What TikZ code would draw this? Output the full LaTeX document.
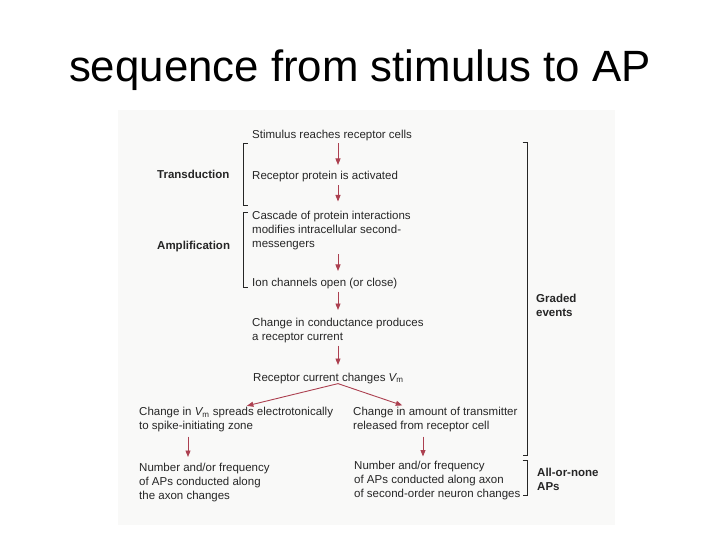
\documentclass[tikz,border=0pt]{standalone}
\usepackage{fontspec}
\setmainfont{Liberation Sans}
\usetikzlibrary{arrows.meta}
\definecolor{txt}{HTML}{262626}
\definecolor{arr}{HTML}{AC4050}
\definecolor{scan}{HTML}{F9F9F8}
\tikzset{
  body/.style={inner sep=0pt, anchor=north west, align=left, text=txt, font=\fontsize{11.5bp}{14bp}\selectfont},
  side/.style={inner sep=0pt, anchor=west, text=txt, font=\fontsize{11.5bp}{14bp}\selectfont\bfseries},
  sidebox/.style={inner sep=0pt, anchor=north west, align=left, text=txt, font=\fontsize{11.5bp}{14bp}\selectfont\bfseries},
  flow/.style={draw=arr, line width=0.9bp, -{Triangle[length=6.5bp,width=5bp]}, shorten <=3bp, shorten >=6bp},
  brk/.style={draw=txt, line width=0.8bp},
}
\begin{document}
\begin{tikzpicture}[x=1bp,y=-1bp]
\useasboundingbox (0,0) rectangle (720,540);
\fill[white] (0,0) rectangle (720,540);
\fill[scan] (118,110) rectangle (615,525);
% title
\node[anchor=base, inner sep=0pt, font=\fontsize{43.8bp}{50bp}\selectfont] (title) at (360,82) {sequence from stimulus to AP};
% column x for main arrows
\coordinate (cx) at (338,0);
\coordinate (lx) at (188,0);
\coordinate (rx) at (423,0);
% text blocks
\node[body] (stim) at (252,129.5) {Stimulus reaches receptor cells};
\node[body] (rec) at (252,170.5) {Receptor protein is activated};
\node[body] (casc) at (252,210.5) {Cascade of protein interactions\\modifies intracellular second-\\messengers};
\node[body] (ion) at (252,277.5) {Ion channels open (or close)};
\node[body] (cond) at (252,318) {Change in conductance produces\\a receptor current};
\node[body] (rcur) at (253,372.5) {Receptor current changes {\itshape V}\textsubscript{m}};
\node[body] (spread) at (139,407) {Change in {\itshape V}\textsubscript{m} spreads electrotonically\\to spike-initiating zone};
\node[body] (trans) at (353,407) {Change in amount of transmitter\\released from receptor cell};
\node[body] (napL) at (139,462.5) {Number and/or frequency\\of APs conducted along\\the axon changes};
\node[body] (napR) at (354,460.5) {Number and/or frequency\\of APs conducted along axon\\of second-order neuron changes};
% side labels
\node[side] (tdn) at (157,174) {Transduction};
\node[side] (amp) at (157,247) {Amplification};
\node[sidebox] (grd) at (536,293.5) {Graded\\events};
\node[sidebox] (aon) at (537,467.5) {All-or-none\\APs};
% brackets
\draw[brk] (247.5,143) -- (243,143) -- (243,205) -- (247.5,205);
\draw[brk] (247.5,212) -- (243,212) -- (243,287) -- (247.5,287);
\draw[brk] (522.5,142) -- (527,142) -- (527,455) -- (522.5,455);
\draw[brk] (522.5,460) -- (527,460) -- (527,495) -- (522.5,495);
% arrows
\draw[flow, shorten <=2.5bp, shorten >=5.5bp] (stim.south -| cx) -- (rec.north -| cx);
\draw[flow, shorten <=3.5bp, shorten >=9bp] (rec.south -| cx) -- (casc.north -| cx);
\draw[flow, shorten <=4.5bp, shorten >=6.5bp] (casc.south -| cx) -- (ion.north -| cx);
\draw[flow, shorten <=3bp, shorten >=8bp] (ion.south -| cx) -- (cond.north -| cx);
\draw[flow, shorten <=2.5bp, shorten >=7.5bp] (cond.south -| cx) -- (rcur.north -| cx);
\coordinate (split) at (rcur.south -| cx);
\draw[flow, shorten <=0bp, shorten >=5bp] (split) -- (spread.north -| 242,0);
\draw[flow, shorten <=0bp, shorten >=5bp] (split) -- (trans.north -| 407,0);
\draw[flow, shorten <=4.5bp, shorten >=5.5bp] (spread.south -| lx) -- (napL.north -| lx);
\draw[flow, shorten <=4.5bp, shorten >=4bp] (trans.south -| rx) -- (napR.north -| rx);
\end{tikzpicture}
\end{document}
